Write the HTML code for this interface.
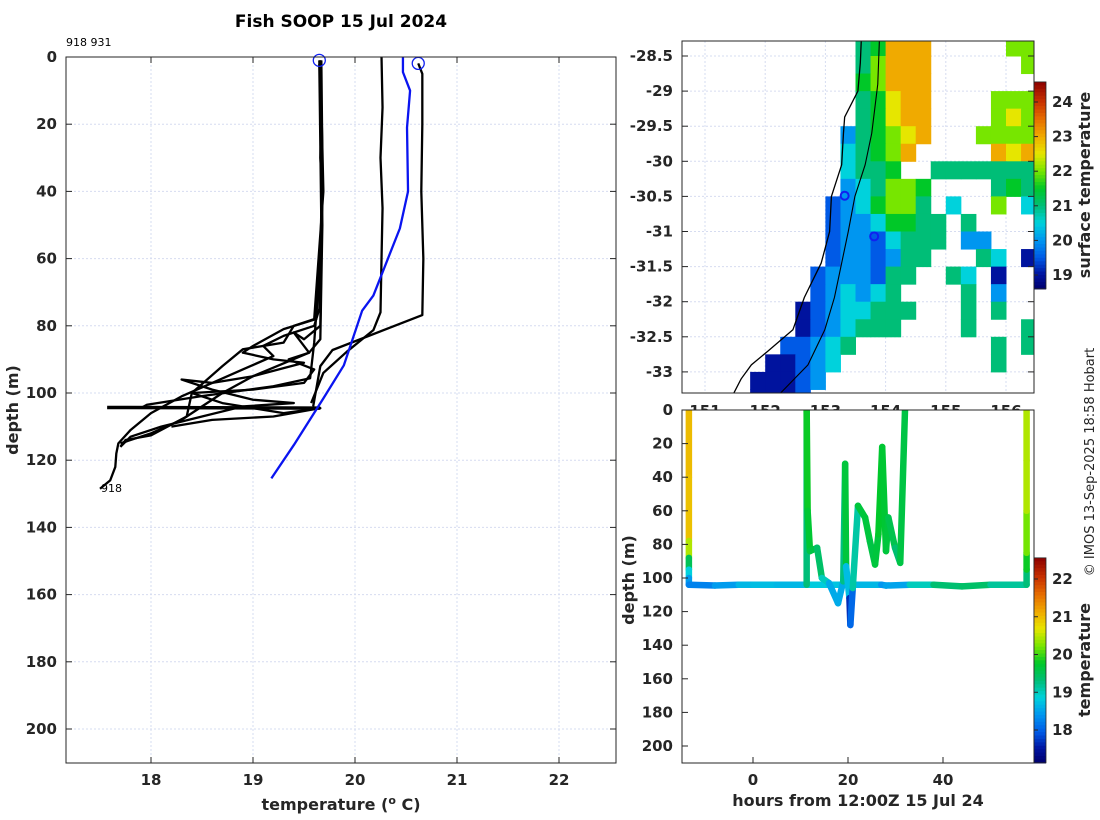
<!DOCTYPE html>
<html><head><meta charset="utf-8">
<style>
html,body{margin:0;padding:0;background:#fff;}
svg{display:block;font-family:"DejaVu Sans","Liberation Sans",sans-serif;}
.tk{font-size:15px;font-weight:bold;fill:#262626;}
.lb{font-size:16px;font-weight:bold;fill:#262626;}
</style></head>
<body>
<svg id="fig" width="1100" height="820" viewBox="0 0 1100 820" xmlns="http://www.w3.org/2000/svg">
  <text x="341" y="27" text-anchor="middle" style="font-size:17px;font-weight:bold;fill:#000">Fish SOOP 15 Jul 2024</text>
  <text x="66" y="46" style="font-size:11px;fill:#000">918 931</text>
  <rect x="66" y="57" width="550" height="706" fill="#fff"/>
  <g id="leftGrid"></g>
  <g id="leftMarks"></g>
  <rect x="66" y="57" width="550" height="706" fill="none" stroke="#262626" stroke-width="1"/>
  <g id="leftTicks"></g>
  <text x="101" y="492" style="font-size:11px;fill:#000">918</text>
  <text transform="translate(18,410) rotate(-90)" text-anchor="middle" class="lb">depth (m)</text>
  <text x="341" y="810" text-anchor="middle" class="lb">temperature (<tspan dy="-6" font-size="11">o</tspan><tspan dy="6"> C)</tspan></text>

  <defs><clipPath id="mapClip"><rect x="682" y="41" width="352" height="352"/></clipPath>
  <clipPath id="hrClip"><rect x="682" y="410" width="352" height="353"/></clipPath></defs>
  <g id="mapTicks"></g>
  <rect x="682" y="41" width="352" height="352" fill="#fff"/>
  <g id="mapGrid"></g>
  <g id="mapCells" clip-path="url(#mapClip)"></g>
  <g id="mapLines" clip-path="url(#mapClip)"></g>
  <rect x="682" y="41" width="352" height="352" fill="none" stroke="#262626"/>
  <g id="cb1"></g>
  <text transform="translate(1090,185) rotate(-90)" text-anchor="middle" class="lb">surface temperature</text>

  <rect x="682" y="410" width="352" height="353" fill="#fff"/>
  <g id="hrMarks" clip-path="url(#hrClip)"></g>
  <rect x="682" y="410" width="352" height="353" fill="none" stroke="#262626"/>
  <g id="hrTicks"></g>
  <g id="cb2"></g>
  <text transform="translate(1090,660) rotate(-90)" text-anchor="middle" class="lb">temperature</text>
  <text transform="translate(634,580) rotate(-90)" text-anchor="middle" class="lb">depth (m)</text>
  <text x="858" y="806" text-anchor="middle" class="lb">hours from 12:00Z 15 Jul 24</text>
  <text transform="translate(1094,462) rotate(-90)" text-anchor="middle" style="font-size:13px;fill:#262626">© IMOS 13-Sep-2025 18:58 Hobart</text>
</svg>
<script>
// ---------- left panel data ----------
const tempTicks=[18,19,20,21,22];
const depthTicks=[0,20,40,60,80,100,120,140,160,180,200];
const profA_T=[19.65,19.66,19.67,19.66,19.68,19.66,19.65,19.6,19.3,19.1,19.2,18.9,18.6,18.3,18.0,17.8,17.68,17.66,17.65,17.6,17.5];
const profA_D=[1,10,20,30,40,60,75,80,83,86,89,93,97,101,106,111,115,118,122,126,128.5];
const profB_T=[19.66,19.67,19.68,19.67,19.66,19.5,19.4,19.55,19.0,18.7,18.3,18.0,17.7];
const profB_D=[1,20,40,60,80,84,82,88,95,100,108,112,115];
const profC_T=[19.67,19.68,19.66,19.6,19.56,19.2,18.48,17.96,17.9];
const profC_D=[1,30,60,85,95.6,98,101,103.5,104.5];
const profD_T=[17.57,19.66];
const profD_D=[104.3,104.5];
const profE_T=[19.66,19.69,19.6,19.4,19.3,18.9,18.7,18.4,18.35,18.0,17.75,17.7];
const profE_D=[1,40,78,80,85,87,92,100,107,112.6,114,116];
const profF_T=[19.65,19.67,19.62,19.3,19.0,18.9,19.2,19.5,19.0,18.6,18.3,18.6,19.0,19.4,18.9,18.5,18.1,17.8,17.7];
const profF_D=[2,50,78,81,86,88,90,91,95,97,96,99,102,103,104,107,110,113,116];
const profG_T=[19.66,19.68,19.66,19.55,19.35,19.6,19.5,19.0,18.4,18.7,19.3,19.66,19.2,18.6,18.2];
const profG_D=[1,50,84,88,90,93,97,99,100,103,106,104.5,107,108,110];
const prof2_T=[20.26,20.27,20.25,20.27,20.26,20.25,20.18,19.92,19.69,19.57];
const prof2_D=[0,15,30,45,60,76,81.3,87.7,94,103];
const prof3_T=[20.62,20.66,20.66,20.65,20.67,20.66,19.78,19.66,19.59];
const prof3_D=[1.9,5,20,40,60,76.8,87.2,92,104];
const blue_T=[20.47,20.47,20.54,20.51,20.52,20.44,20.18,20.07,19.89,19.69,19.4,19.18];
const blue_D=[0,4.5,10,21,40,51,71,75.5,91.8,101.6,115.5,125.4];
const startT=[19.65,20.62];
const startD=[1,1.9];

// ---------- map data ----------
const lonTicks=[151,152,153,154,155,156];
const latTicks=[-28.5,-29,-29.5,-30,-30.5,-31,-31.5,-32,-32.5,-33];
const sstTicks=[19,20,21,22,23,24];
const cellLon0=150.5, cellLat0=-28.0, cellStep=0.25;
const sstLevels=[19,19.5,20,20.5,21,21.5,22,22.5,23,23.5];
const sstRows=[
"............4588........",
"............45888.....66",
"............46888......6",
"............56888.......",
"............45788....666",
"............45788....676",
"...........245678...6666",
"...........34568.....878",
"...........3445..4444444",
"...........234665....454",
"..........1235664.3..6.3",
"..........12235544.4....",
"..........12213444.22...",
"..........1221244...43.0",
".........1222144..43.0..",
".........123234....4.2..",
"........01233444...4.4..",
"........0123444....4...4",
".......11234.........4.4",
"......00123..........4..",
".....00012..............",
".....0001..............."];
const coastLat=[-28.2,-28.6,-29.0,-29.37,-29.6,-30.05,-30.5,-31.0,-31.45,-31.94,-32.4,-32.7,-32.9,-33.1,-33.35];
const coastLon=[153.6,153.58,153.54,153.32,153.3,153.27,153.1,153.07,152.93,152.65,152.46,152.05,151.77,151.6,151.45];
const trackLat=[-28.2,-28.9,-29.6,-30.05,-30.5,-31.0,-31.45,-31.94,-32.4,-32.9,-33.35];
const trackLon=[153.9,153.87,153.77,153.66,153.49,153.38,153.27,153.15,152.99,152.71,152.2];
const stnLat=[-30.49,-31.07];
const stnLon=[153.32,153.81];

// ---------- section data ----------
const hourTicks=[0,20,40];
const secDepthTicks=[0,20,40,60,80,100,120,140,160,180,200];
const tempCbTicks=[18,19,20,21,22];
const seg1_H=[-13.5,-13.5,-13.5,-13.5,-13.5,-13.5,-13.5,-8,-3,0,5,11.3];
const seg1_D=[0,40,78,88,95,100,104,104.5,104,104,104,104];
const seg1_T=[21.0,21.0,20.9,20.0,19.0,18.7,18.2,18.3,18.6,18.7,18.7,18.6];
const seg2_H=[11.3,11.3,11.5,12,13.5,14.5,16,17.9,19,19.4,19.6,20.3,20.5,21,22.1,23.6,24.6,25.7,26.4,27.2,28,28.5,29.9,31,32];
const seg2_D=[104,0,60,84,82,100,103,115,102,32,93,112,128,106,57,64,78,92,74,22,84,64,82,91,0];
const seg2_T=[18.8,19.8,19.8,19.6,19.6,19.2,18.8,18.3,18.8,19.7,19.6,17.8,17.5,18.6,19.6,19.7,19.6,19.6,19.7,19.8,19.6,19.7,19.4,19.3,19.9];
const seg3_H=[11.3,16,21,27,28,33,38,44,50,57.6];
const seg3_D=[104,104,104,104,104.5,104,104,105,104,104];
const seg3_T=[18.8,18.8,18.7,18.6,18.2,18.8,19.2,19.5,19.3,19.0];
const seg4_H=[57.6,57.6,57.6,57.6,57.6,57.6];
const seg4_D=[104,95,85,60,30,0];
const seg4_T=[19.0,19.6,20.0,20.4,20.5,20.4];

const NS="http://www.w3.org/2000/svg";
function mk(tag,attrs,parent){const e=document.createElementNS(NS,tag);for(const k in attrs)e.setAttribute(k,attrs[k]);parent.appendChild(e);return e;}
const leftX=t=>151+(t-18)*102, leftY=d=>57+d*3.36;
const mapX=lon=>705+(lon-151)*60.2, mapY=lat=>56+(-28.5-lat)*70.2;
const hrX=h=>753+h*4.75, hrY=d=>410+d*1.68;
const cb1Y=v=>102+(24-v)*34.6, cb2Y=v=>579+(22-v)*37.75;
const stops=[[0,[0,0,110]],[0.07,[0,20,160]],[0.15,[0,90,230]],[0.234,[0,150,240]],[0.318,[0,210,220]],[0.40,[0,190,120]],[0.485,[0,200,40]],[0.569,[120,230,0]],[0.652,[230,230,0]],[0.736,[240,170,0]],[0.82,[230,110,0]],[0.903,[200,50,0]],[1,[140,0,0]]];
function cmap(t){t=Math.max(0,Math.min(1,t));for(let i=1;i<stops.length;i++){if(t<=stops[i][0]){const a=stops[i-1],b=stops[i],f=(t-a[0])/(b[0]-a[0]);const c=a[1].map((v,j)=>Math.round(v+(b[1][j]-v)*f));return `rgb(${c[0]},${c[1]},${c[2]})`;}}return 'rgb(140,0,0)';}
const sstC=v=>cmap((v-18.6)/(24.58-18.6)), tC=v=>cmap((v-17.13)/(22.56-17.13));

// left panel
const lg=document.getElementById('leftGrid'), lm=document.getElementById('leftMarks'), lt=document.getElementById('leftTicks');
tempTicks.forEach(t=>{
  const gl=mk('line',{x1:leftX(t),x2:leftX(t),y1:57,y2:763,stroke:'#d6dcf0','stroke-dasharray':'2,2'},lg);
  
  
  mk('line',{x1:leftX(t),x2:leftX(t),y1:57,y2:63,stroke:'#262626'},lt);
  mk('line',{x1:leftX(t),x2:leftX(t),y1:763,y2:757,stroke:'#262626'},lt);
  const tx=mk('text',{x:leftX(t),y:785,'text-anchor':'middle',class:'tk'},lt);tx.textContent=t;
  
  
});
depthTicks.forEach(d=>{
  const gl=mk('line',{x1:66,x2:616,y1:leftY(d),y2:leftY(d),stroke:'#d6dcf0','stroke-dasharray':'2,2'},lg);
  
  
  mk('line',{x1:66,x2:72,y1:leftY(d),y2:leftY(d),stroke:'#262626'},lt);
  mk('line',{x1:616,x2:610,y1:leftY(d),y2:leftY(d),stroke:'#262626'},lt);
  const tx=mk('text',{x:57,y:leftY(d)+5,'text-anchor':'end',class:'tk'},lt);tx.textContent=d;
  
  
});
function prof(T,D,color,w,name){
  const p=mk('polyline',{points:T.map((t,i)=>leftX(t)+','+leftY(D[i])).join(' '),fill:'none',stroke:color,'stroke-width':w,'stroke-linejoin':'round'},lm);
  
  
}
prof(profA_T,profA_D,'#000',2.3,'profile-918-a');
prof(profB_T,profB_D,'#000',2.3,'profile-918-b');
prof(profC_T,profC_D,'#000',2.3,'profile-918-c');
prof(profD_T,profD_D,'#000',3.5,'profile-918-d');
prof(profE_T,profE_D,'#000',2.3,'profile-918-e');
prof(profF_T,profF_D,'#000',2.3,'profile-918-f');
prof(profG_T,profG_D,'#000',2.3,'profile-918-g');
prof(prof2_T,prof2_D,'#000',2.3,'profile-mid');
prof(prof3_T,prof3_D,'#000',2.3,'profile-931');
prof(blue_T,blue_D,'#0a14f0',2.3,'profile-climatology');
startT.forEach((t,i)=>{
  const c=mk('circle',{cx:leftX(t),cy:leftY(startD[i]),r:6,fill:'none',stroke:'#1020f0','stroke-width':1.3},lm);
  
  
});

// map
const mt=document.getElementById('mapTicks'), mg=document.getElementById('mapGrid'), mc=document.getElementById('mapCells'), ml=document.getElementById('mapLines');
lonTicks.forEach(l=>{
  mk('line',{x1:mapX(l),x2:mapX(l),y1:41,y2:393,stroke:'#d6dcf0','stroke-dasharray':'2,2'},mg);
  const tx=mk('text',{x:mapX(l),y:416,'text-anchor':'middle',class:'tk'},mt);tx.textContent=l;
  
  
});
latTicks.forEach(l=>{
  mk('line',{x1:682,x2:1034,y1:mapY(l),y2:mapY(l),stroke:'#d6dcf0','stroke-dasharray':'2,2'},mg);
  mk('line',{x1:682,x2:688,y1:mapY(l),y2:mapY(l),stroke:'#262626'},ml);
  mk('line',{x1:1034,x2:1028,y1:mapY(l),y2:mapY(l),stroke:'#262626'},ml);
  const tx=mk('text',{x:673,y:mapY(l)+5,'text-anchor':'end',class:'tk'},mt);tx.textContent=l;
  
  
});
sstRows.forEach((row,j)=>{
  for(let i=0;i<row.length;i++){
    const ch=row[i]; if(ch==='.')continue;
    const v=sstLevels[+ch];
    const x0=mapX(cellLon0+i*cellStep), x1=mapX(cellLon0+(i+1)*cellStep);
    const y0=mapY(cellLat0-j*cellStep), y1=mapY(cellLat0-(j+1)*cellStep);
    const r=mk('rect',{x:x0,y:y0,width:x1-x0+0.5,height:y1-y0+0.5,fill:sstC(v)},mc);
    
    
  }
});
const coast=mk('polyline',{points:coastLat.map((la,i)=>mapX(coastLon[i])+','+mapY(la)).join(' '),fill:'none',stroke:'#000','stroke-width':1.3},ml);


const trk=mk('polyline',{points:trackLat.map((la,i)=>mapX(trackLon[i])+','+mapY(la)).join(' '),fill:'none',stroke:'#000','stroke-width':1.1},ml);


stnLat.forEach((la,i)=>{
  const c=mk('circle',{cx:mapX(stnLon[i]),cy:mapY(la),r:4,fill:'none',stroke:'#1020f0','stroke-width':2},ml);
  
  
});
function colorbar(g,lo,hi,yf,cf,ticks,name){
  const y0=yf(hi), y1=yf(lo), n=60;
  for(let k=0;k<n;k++){const v=hi-(hi-lo)*(k+0.5)/n;mk('rect',{x:1034,y:y0+(y1-y0)*k/n,width:12,height:(y1-y0)/n+0.6,fill:cf(v)},g);}
  mk('rect',{x:1034,y:y0,width:12,height:y1-y0,fill:'none',stroke:'#262626','stroke-width':0.8},g);
  ticks.forEach(t=>{
    mk('line',{x1:1034,x2:1038,y1:yf(t),y2:yf(t),stroke:'#262626'},g);
    const tx=mk('text',{x:1052,y:yf(t)+5,class:'tk'},g);tx.textContent=t;
    
    
  });
}
colorbar(document.getElementById('cb1'),18.6,24.58,cb1Y,sstC,sstTicks,'sst-colorbar-tick');
colorbar(document.getElementById('cb2'),17.13,22.56,cb2Y,tC,tempCbTicks,'temp-colorbar-tick');

// section
const hm=document.getElementById('hrMarks'), ht=document.getElementById('hrTicks');
hourTicks.forEach(h=>{
  mk('line',{x1:hrX(h),x2:hrX(h),y1:763,y2:757,stroke:'#262626'},ht);
  const tx=mk('text',{x:hrX(h),y:785,'text-anchor':'middle',class:'tk'},ht);tx.textContent=h;
  
  
});
secDepthTicks.forEach(d=>{
  mk('line',{x1:682,x2:688,y1:hrY(d),y2:hrY(d),stroke:'#262626'},ht);
  const tx=mk('text',{x:673,y:hrY(d)+5,'text-anchor':'end',class:'tk'},ht);tx.textContent=d;
  
  
});
function seg(H,D,T,name){
  for(let i=1;i<H.length;i++){
    const l=mk('line',{x1:hrX(H[i-1]),y1:hrY(D[i-1]),x2:hrX(H[i]),y2:hrY(D[i]),stroke:tC((T[i-1]+T[i])/2),'stroke-width':6.5,'stroke-linecap':'round'},hm);
    
    
  }
}
seg(seg3_H,seg3_D,seg3_T,'track-bottom-run');
seg(seg1_H,seg1_D,seg1_T,'track-start');
seg(seg2_H,seg2_D,seg2_T,'track-middle');
seg(seg4_H,seg4_D,seg4_T,'track-end');
</script>
</body></html>
